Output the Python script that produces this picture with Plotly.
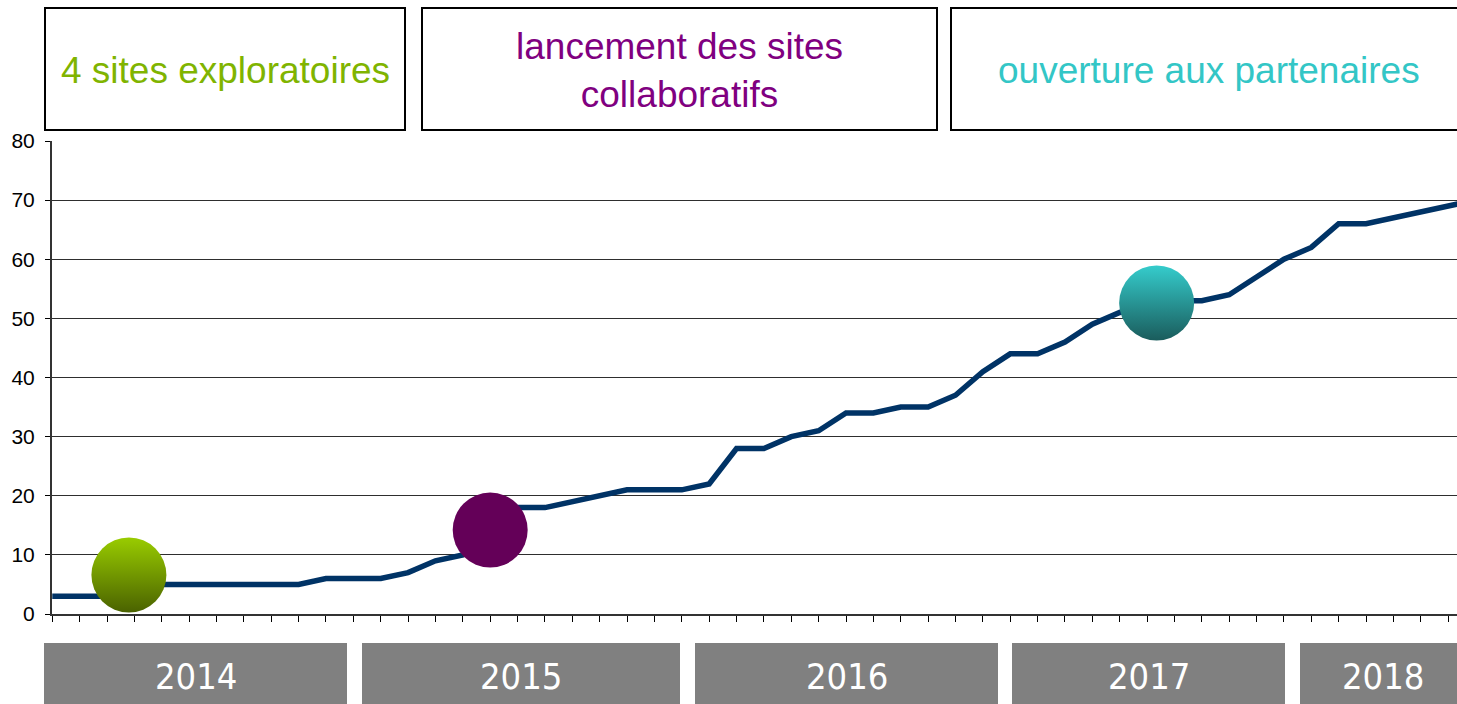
import plotly.graph_objects as go

# ---- data ----
month_index = list(range(53))
sites = [3, 3, 3, 4, 5, 5, 5, 5, 5, 5, 6, 6, 6, 7, 9, 10, 14, 18, 18, 19, 20,
         21, 21, 21, 22, 28, 28, 30, 31, 34, 34, 35, 35, 37, 41, 44, 44, 46,
         49, 51, 52, 53, 53, 54, 57, 60, 62, 66, 66, 67, 68, 69, 70]

milestone_labels = ["4 sites exploratoires", "lancement des sites<br>collaboratifs",
                    "ouverture aux partenaires"]
milestone_x = [2.8, 16.0, 40.35]
milestone_y = [6.6, 14.2, 52.6]

years = ["2014", "2015", "2016", "2017", "2018"]
y_ticks = [0, 10, 20, 30, 40, 50, 60, 70, 80]

# ---- layout constants ----
W, H = 1457, 704
ML, MT, MB = 52, 141, 90
PW = W - ML
PH = H - MT - MB

def px_x(p):
    return (p - ML) / PW

def px_y(p):
    return (H - MB - p) / PH

milestone_colors = ["#80b400", "#800080", "#33c6c6"]
bubble_top = ["#99cc00", "#640058", "#35cccc"]
bubble_bottom = ["#4a6200", "#640058", "#1a5c5c"]
top_boxes_px = [(45, 405), (422, 937), (951, 1475)]
top_text_cx_px = [225, 679.5, 1209]
year_boxes_px = [(44, 347), (362, 680), (695, 998), (1012, 1285), (1300, 1475)]
year_text_cx_px = [195.5, 521, 846.5, 1148.5, 1382.5]

fig = go.Figure()

fig.add_trace(go.Scatter(
    x=month_index, y=sites, mode="lines",
    line=dict(color="#003366", width=5.5),
    hoverinfo="y", showlegend=False,
))

for i in range(len(milestone_x)):
    fig.add_trace(go.Scatter(
        x=[milestone_x[i]], y=[milestone_y[i]], mode="markers",
        marker=dict(size=75, color=bubble_top[i], line=dict(width=0),
                    gradient=dict(type="vertical", color=bubble_bottom[i])),
        cliponaxis=False, showlegend=False, hoverinfo="skip",
    ))

shapes = []
annotations = []
for i, (a, b) in enumerate(top_boxes_px):
    shapes.append(dict(type="rect", xref="paper", yref="paper",
                       x0=px_x(a), x1=px_x(b), y0=px_y(130), y1=px_y(8),
                       line=dict(color="black", width=2), fillcolor="white",
                       layer="above"))
    annotations.append(dict(xref="paper", yref="paper", x=px_x(top_text_cx_px[i]),
                            y=px_y(70), text=milestone_labels[i], showarrow=False,
                            xanchor="center", yanchor="middle",
                            font=dict(family="Liberation Sans, Arial", size=37,
                                      color=milestone_colors[i])))

for i, (a, b) in enumerate(year_boxes_px):
    shapes.append(dict(type="rect", xref="paper", yref="paper",
                       x0=px_x(a), x1=px_x(b), y0=px_y(643), y1=px_y(712),
                       line=dict(width=0), fillcolor="#808080"))
    annotations.append(dict(xref="paper", yref="paper", x=px_x(year_text_cx_px[i]),
                            y=px_y(676), text=years[i], showarrow=False,
                            xanchor="center", yanchor="middle",
                            font=dict(family="DejaVu Sans Condensed, Noto Sans, sans-serif",
                                      size=36, color="white")))

fig.update_layout(
    width=W, height=H, autosize=False,
    margin=dict(l=ML, r=0, t=MT, b=MB, pad=0),
    paper_bgcolor="white", plot_bgcolor="white",
    shapes=shapes, annotations=annotations,
    xaxis=dict(range=[-0.01, -0.01 + PW / 27.37], tickvals=month_index,
               showticklabels=False, ticks="outside", ticklen=6, tickcolor="black",
               tickwidth=1, showgrid=False, zeroline=False,
               showline=True, linecolor="#333333", linewidth=2),
    yaxis=dict(range=[0, 80], tickvals=y_ticks, ticks="outside", ticklen=5,
               tickcolor="black", tickwidth=1, showgrid=True, gridcolor="#2e2e2e",
               gridwidth=1, zeroline=False, showline=True, linecolor="#333333",
               linewidth=2, ticklabelstandoff=6,
               tickfont=dict(family="Liberation Sans, Arial", size=21, color="black")),
)

fig.write_html("out.html", config={"displayModeBar": False},
               post_script="document.body.style.margin='0px';")
